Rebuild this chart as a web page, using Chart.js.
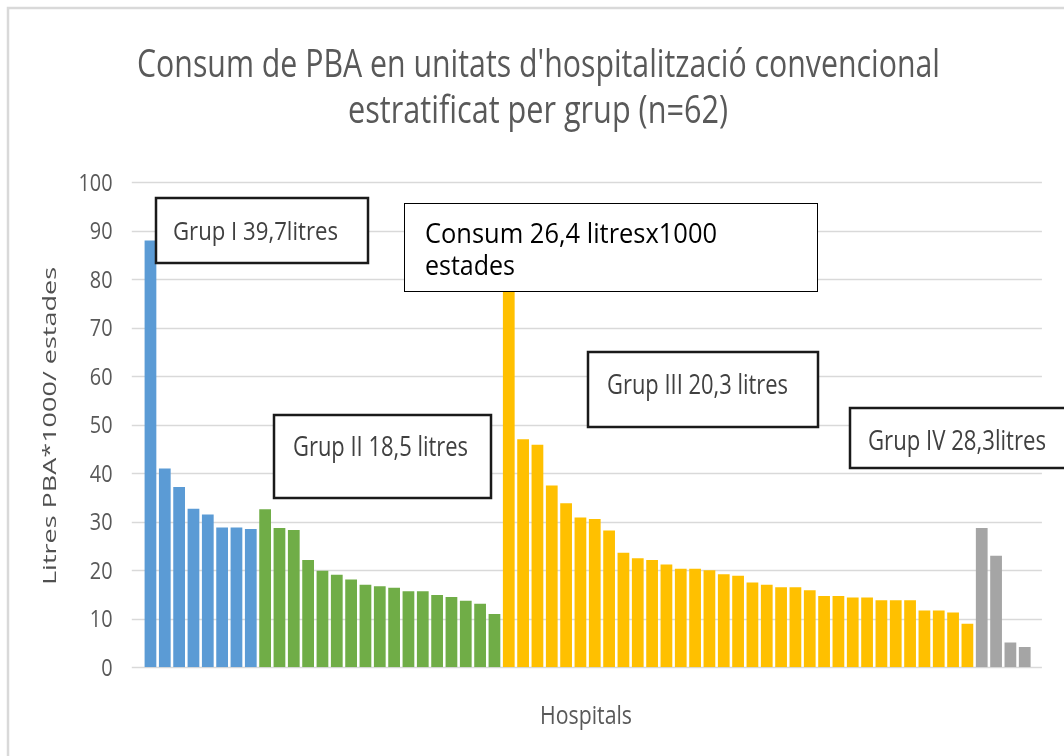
<!DOCTYPE html>
<html>
<head>
<meta charset="utf-8">
<script src="https://cdn.jsdelivr.net/npm/chart.js@4.4.0/dist/chart.umd.min.js"></script>
<style>
  html, body { margin: 0; padding: 0; background: #fff; overflow: hidden; }
  #wrap { position: relative; width: 1064px; height: 756px; }
</style>
</head>
<body>
<div id="wrap"><canvas id="c" width="1064" height="756"></canvas></div>
<script>
// Litres of hand-rub solution per 1000 patient-days, per hospital, by group
const grupI   = [88.0, 41.0, 37.2, 32.7, 31.5, 28.8, 28.8, 28.5];
const grupII  = [32.6, 28.7, 28.3, 22.1, 19.9, 19.1, 18.1, 17.0, 16.7, 16.4, 15.7, 15.7, 14.9, 14.5, 13.7, 13.1, 11.0];
const grupIII = [86.0, 47.0, 45.9, 37.5, 33.8, 30.9, 30.6, 28.2, 23.6, 22.5, 22.1, 21.2, 20.3, 20.3, 20.0, 19.2,
                 18.9, 17.5, 17.0, 16.5, 16.5, 15.9, 14.7, 14.7, 14.4, 14.4, 13.8, 13.8, 13.8, 11.7, 11.7, 11.3, 9.0];
const grupIV  = [28.7, 23.0, 5.1, 4.2];

const groups      = [grupI, grupII, grupIII, grupIV];
const groupColors = ['#5b9bd5', '#70ad47', '#ffc000', '#a5a5a5'];
const groupNotes  = ['Grup I 39,7litres', 'Grup II 18,5 litres', 'Grup III 20,3 litres', 'Grup IV 28,3litres'];
const totalNote   = ['Consum 26,4 litresx1000', 'estades'];

const yTicks      = [0, 10, 20, 30, 40, 50, 60, 70, 80, 90, 100];
const yTickLabels = ['0', '10', '20', '30', '40', '50', '60', '70', '80', '90', '100'];

const titleLines  = ["Consum de PBA en unitats d'hospitalització convencional", 'estratificat per grup (n=62)'];
const yTitle      = 'Litres PBA*1000/ estades';
const xTitle      = 'Hospitals';

// flatten groups into one bar series, one category per hospital
const values = [], colors = [], hospitals = [];
groups.forEach((g, gi) => g.forEach(v => {
  values.push(v);
  colors.push(groupColors[gi]);
  hospitals.push('H' + (hospitals.length + 1));
}));

// Text drawn at a given cap height and squeezed/stretched to a given run length
const FONT = '"Open Sans", "Liberation Sans", sans-serif';
function runText(ctx, str, o) {
  const size = o.cap / 0.714;
  ctx.save();
  ctx.font = `${o.weight || 400} ${size}px ${o.family || FONT}`;
  const w = ctx.measureText(str).width;
  const sx = o.width ? o.width / w : (o.sx || 1);
  const span = w * sx;
  const start = o.align === 'center' ? -span / 2 : (o.align === 'right' ? -span : 0);
  ctx.translate(o.x, o.y);
  if (o.rotate) ctx.rotate(o.rotate);
  ctx.translate(start, 0);
  ctx.scale(sx, 1);
  ctx.fillStyle = o.color || '#595959';
  ctx.textAlign = 'left';
  ctx.textBaseline = 'alphabetic';
  ctx.fillText(str, 0, 0);
  ctx.restore();
}

function box(ctx, x0, y0, x1, y1, lw, color) {
  ctx.save();
  ctx.fillStyle = '#ffffff';
  ctx.fillRect(x0, y0, x1 - x0, y1 - y0);
  ctx.lineWidth = lw;
  ctx.strokeStyle = color;
  ctx.strokeRect(x0, y0, x1 - x0, y1 - y0);
  ctx.restore();
}

const decor = {
  id: 'decor',
  beforeDraw(chart) {
    const ctx = chart.ctx;
    ctx.save();
    ctx.fillStyle = '#ffffff';
    ctx.fillRect(0, 0, chart.width, chart.height);
    // frame of the chart object (top and left edges)
    ctx.strokeStyle = '#d9d9d9';
    ctx.lineWidth = 2.5;
    ctx.beginPath();
    ctx.moveTo(8, chart.height);
    ctx.lineTo(8, 8);
    ctx.lineTo(chart.width, 8);
    ctx.stroke();
    ctx.restore();
  },
  beforeDatasetsDraw(chart) {
    const ctx = chart.ctx, y = chart.scales.y, a = chart.chartArea;
    ctx.save();
    ctx.strokeStyle = '#d9d9d9';
    ctx.lineWidth = 1.5;
    y.ticks.forEach(t => {
      const py = Math.round(y.getPixelForValue(t.value)) + 0.5;
      ctx.beginPath();
      ctx.moveTo(a.left - 11.5, py);
      ctx.lineTo(a.right + 10, py);
      ctx.stroke();
    });
    ctx.restore();
  },
  afterDatasetsDraw(chart) {
    const ctx = chart.ctx, y = chart.scales.y;

    // y tick labels
    y.ticks.forEach((t, i) => {
      runText(ctx, yTickLabels[i], { x: 112.5, y: y.getPixelForValue(t.value) + 8.2, cap: 16.5, sx: 0.86, align: 'right' });
    });

    // title
    runText(ctx, titleLines[0], { x: 538.5, y: 77, cap: 27, width: 803, align: 'center' });
    runText(ctx, titleLines[1], { x: 538, y: 123, cap: 27, width: 380, align: 'center' });

    // axis titles
    runText(ctx, yTitle, { x: 56, y: 426, cap: 12.8, width: 318, align: 'center', rotate: -Math.PI / 2, color: '#505050' });
    runText(ctx, xTitle, { x: 586, y: 724, cap: 18, width: 92, align: 'center' });

    // group notes
    const noteColor = '#404040';
    box(ctx, 156, 198, 368, 263, 2.5, '#1a1a1a');
    runText(ctx, groupNotes[0], { x: 173, y: 240, cap: 18, width: 165, color: noteColor });

    box(ctx, 274, 415, 491, 498, 2.5, '#1a1a1a');
    runText(ctx, groupNotes[1], { x: 293, y: 456, cap: 19, width: 175, color: noteColor });

    box(ctx, 588, 352, 818, 427, 2.5, '#1a1a1a');
    runText(ctx, groupNotes[2], { x: 607, y: 394, cap: 19, width: 181, color: noteColor });

    box(ctx, 850, 408, 1080, 468, 2.5, '#1a1a1a');
    runText(ctx, groupNotes[3], { x: 868, y: 450, cap: 19.5, width: 178, color: noteColor });

    // overall consumption note
    box(ctx, 404.5, 203.5, 817.5, 291.5, 1, '#000000');
    runText(ctx, totalNote[0], { x: 425, y: 243, cap: 19, width: 292, color: '#000000' });
    runText(ctx, totalNote[1], { x: 425, y: 275, cap: 19, width: 90, color: '#000000' });
  }
};

new Chart(document.getElementById('c'), {
  type: 'bar',
  data: {
    labels: hospitals,
    datasets: [{
      data: values,
      backgroundColor: colors,
      borderWidth: 0,
      barPercentage: 0.82,
      categoryPercentage: 1.0
    }]
  },
  options: {
    responsive: false,
    animation: false,
    devicePixelRatio: 1,
    layout: { padding: { left: 143.3, right: 32.1, top: 182.3, bottom: 88.7 } },
    plugins: { legend: { display: false }, title: { display: false }, tooltip: { enabled: false } },
    scales: {
      x: {
        type: 'category',
        offset: true,
        ticks: { display: false },
        grid: { display: false, drawTicks: false },
        border: { display: false },
        afterFit: s => { s.height = 0; }
      },
      y: {
        min: 0,
        max: 100,
        ticks: { display: false },
        grid: { display: false, drawTicks: false },
        border: { display: false },
        afterBuildTicks: s => { s.ticks = yTicks.map(v => ({ value: v })); },
        afterFit: s => { s.width = 0; }
      }
    }
  },
  plugins: [decor]
});
</script>
</body>
</html>
